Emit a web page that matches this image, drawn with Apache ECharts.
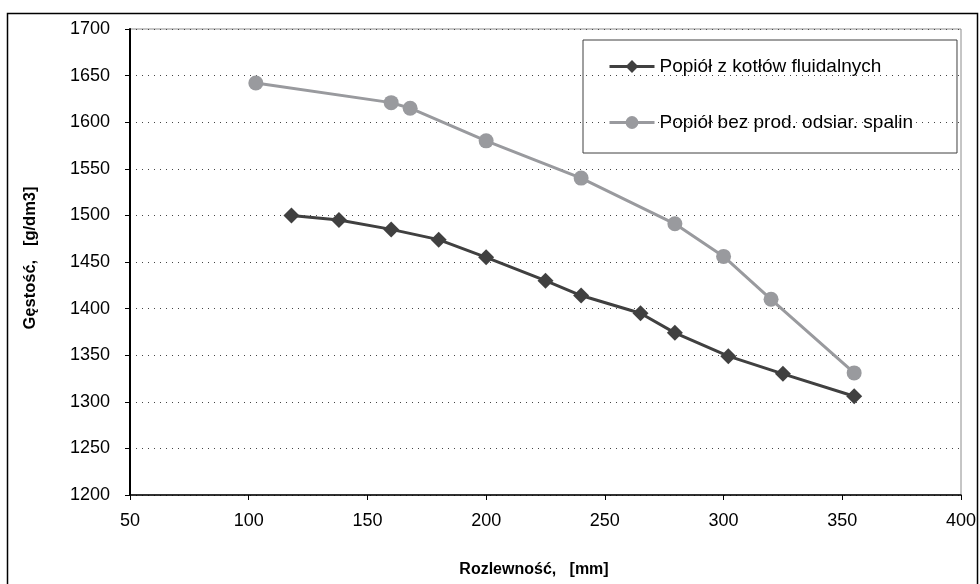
<!DOCTYPE html>
<html>
<head>
<meta charset="utf-8">
<script src="https://cdn.jsdelivr.net/npm/echarts@6/dist/echarts.min.js"></script>
<style>
html,body{margin:0;padding:0;background:#fff;}
#chart{width:980px;height:584px;}
</style>
</head>
<body>
<div id="chart"></div>
<script>
var seriesNames = ['Popiół z kotłów fluidalnych', 'Popiół bez prod. odsiar. spalin'];
var fluidX = [118, 138, 160, 180, 200, 225, 240, 265, 279.5, 302, 325, 355];
var fluidY = [1500, 1495, 1485, 1474, 1455, 1430, 1414, 1395, 1374, 1349, 1330, 1306];
var bezX = [103, 160, 168, 200, 240, 279.5, 300, 320, 355];
var bezY = [1642, 1621, 1615, 1580, 1540, 1491, 1456, 1410, 1331];
var xTitle = 'Rozlewność,   [mm]';
var yTitle = 'Gęstość,   [g/dm3]';

function pairs(xs, ys){ return xs.map(function(x,i){ return [x, ys[i]]; }); }

var chart = echarts.init(document.getElementById('chart'), null, {renderer:'canvas'});
var font = "'Liberation Sans', Arial, sans-serif";
chart.setOption({
  animation:false,
  backgroundColor:'#ffffff',
  textStyle:{fontFamily:font},
  grid:{left:130, top:29, right:19, bottom:89, show:true, borderColor:'#8c8c8c', borderWidth:1, backgroundColor:'transparent'},
  legend:{
    left:583, top:40, orient:'vertical',
    data:seriesNames,
    borderColor:'#404040', borderWidth:1,
    padding:[17,44,21,25],
    itemWidth:45, itemHeight:16, itemGap:37,
    lineStyle:{width:3},
    textStyle:{fontSize:19, color:'#000', fontFamily:font}
  },
  xAxis:{
    type:'value', min:50, max:400, interval:50,
    axisLine:{show:true, onZero:false, lineStyle:{color:'#000', width:1.5}},
    axisTick:{show:true, length:5, lineStyle:{color:'#000'}},
    axisLabel:{fontSize:18, color:'#000', margin:17, fontFamily:font, formatter:function(v){return String(v);}},
    splitLine:{show:false}
  },
  yAxis:{
    type:'value', min:1200, max:1700, interval:50,
    axisLine:{show:true, onZero:false, lineStyle:{color:'#000', width:2}},
    axisTick:{show:true, length:5, lineStyle:{color:'#000'}},
    axisLabel:{fontSize:18, color:'#000', margin:20, fontFamily:font, formatter:function(v){return String(v);}},
    splitLine:{show:true, lineStyle:{color:'#444', type:[1,5], width:1}}
  },
  graphic:[
    {type:'rect', shape:{x:7.5, y:13.5, width:970, height:600}, style:{fill:'none', stroke:'#000', lineWidth:1.5}, silent:true, z:-1},
    {type:'text', x:534, y:570, style:{text:xTitle, font:'bold 16px '+font, fill:'#000', align:'center', verticalAlign:'middle'}},
    {type:'text', x:30, y:258, rotation:Math.PI/2, style:{text:yTitle, font:'bold 16.5px '+font, fill:'#000', align:'center', verticalAlign:'middle'}}
  ],
  series:[
    {
      name:seriesNames[0], type:'line', data:pairs(fluidX, fluidY),
      symbol:'diamond', symbolSize:16,
      lineStyle:{color:'#404040', width:3},
      itemStyle:{color:'#404040'},
      z:3
    },
    {
      name:seriesNames[1], type:'line', data:pairs(bezX, bezY),
      symbol:'circle', symbolSize:15,
      lineStyle:{color:'#999a9e', width:3},
      itemStyle:{color:'#999a9e'},
      z:2
    }
  ]
});
</script>
</body>
</html>
